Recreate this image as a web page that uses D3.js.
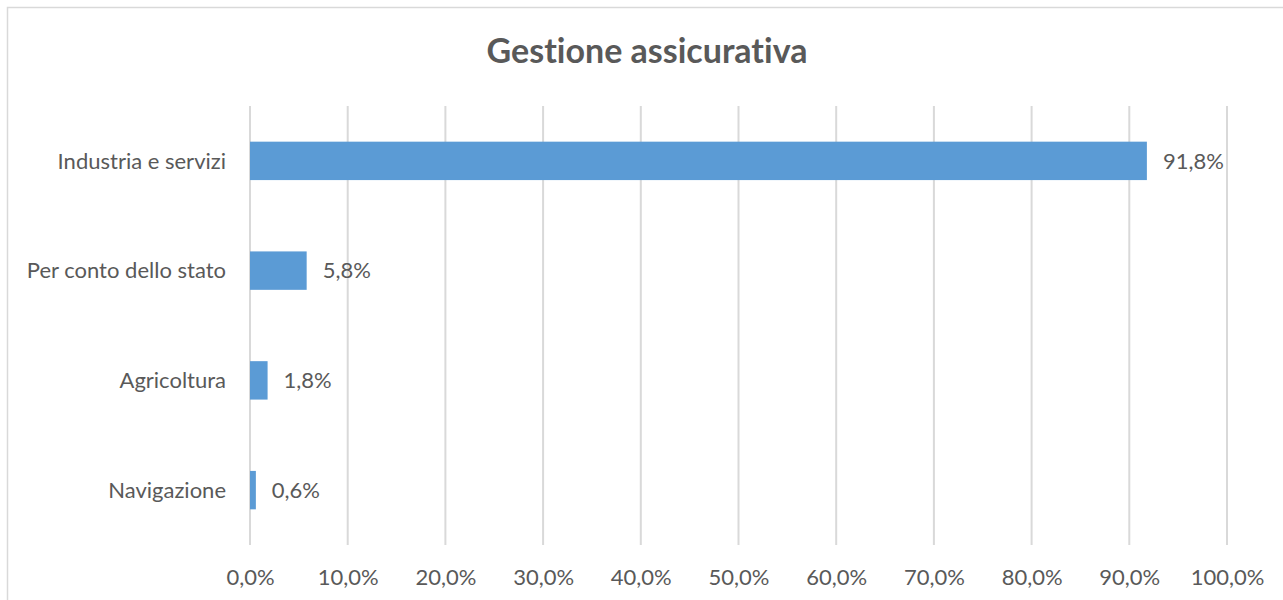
<!DOCTYPE html>
<html>
<head>
<meta charset="utf-8">
<script src="https://cdn.jsdelivr.net/npm/d3@7"></script>
<style>
    body { margin: 0; background: #fff; }
    svg { display: block; font-family: Lato, "Open Sans", sans-serif; font-variant-ligatures: none; }
    .grid line { stroke: #d9d9d9; stroke-width: 2; }
    .bar { fill: #5b9bd5; }
    .label, .tick text, .value { fill: #595959; font-size: 22px; }
    .title { fill: #595959; font-size: 34px; font-weight: bold; }
</style>
</head>
<body>
<svg id="chart" width="1283" height="600"></svg>
<script>
const title = 'Gestione assicurativa';
const categories = ['Industria e servizi', 'Per conto dello stato', 'Agricoltura', 'Navigazione'];
const values = [91.8, 5.8, 1.8, 0.6];
const xTicks = [0, 10, 20, 30, 40, 50, 60, 70, 80, 90, 100];

const width = 1283, height = 600;
const margin = {top: 106, right: 56, bottom: 55, left: 250};

const svg = d3.select('#chart');
const fmt = v => v.toFixed(1).replace('.', ',') + '%';

// chart frame (runs off the right and bottom of the picture)
svg.append('rect')
    .attr('x', 7.5).attr('y', 7.5)
    .attr('width', width + 10).attr('height', height + 10)
    .attr('fill', 'none').attr('stroke', '#d9d9d9').attr('stroke-width', 1.5);

const x = d3.scaleLinear()
    .domain([0, 100])
    .range([margin.left, width - margin.right]);

const y = d3.scaleBand()
    .domain(categories)
    .range([margin.top, height - margin.bottom])
    .paddingInner(0.65)
    .paddingOuter(0.325);

svg.append('text')
    .attr('class', 'title')
    .attr('x', 647)
    .attr('y', 63)
    .attr('text-anchor', 'middle')
    .text(title);

svg.append('g')
    .attr('class', 'grid')
    .selectAll('line')
    .data(xTicks)
    .join('line')
        .attr('x1', d => x(d)).attr('x2', d => x(d))
        .attr('y1', margin.top).attr('y2', height - margin.bottom);

const xAxis = svg.append('g')
    .attr('transform', `translate(0,${height - margin.bottom})`)
    .call(d3.axisBottom(x).tickValues(xTicks).tickFormat(fmt).tickSize(0).tickPadding(24));
xAxis.select('.domain').remove();
xAxis.attr('font-family', null).attr('font-size', null);

svg.append('g')
    .selectAll('rect')
    .data(values)
    .join('rect')
        .attr('class', 'bar')
        .attr('x', x(0))
        .attr('y', (d, i) => y(categories[i]))
        .attr('width', d => x(d) - x(0))
        .attr('height', y.bandwidth());

svg.append('g')
    .selectAll('text')
    .data(categories)
    .join('text')
        .attr('class', 'label')
        .attr('x', x(0) - 24)
        .attr('y', d => y(d) + y.bandwidth() / 2)
        .attr('dy', '0.35em')
        .attr('text-anchor', 'end')
        .text(d => d);

svg.append('g')
    .selectAll('text')
    .data(values)
    .join('text')
        .attr('class', 'value')
        .attr('x', d => x(d) + 16)
        .attr('y', (d, i) => y(categories[i]) + y.bandwidth() / 2)
        .attr('dy', '0.35em')
        .text(fmt);
</script>
</body>
</html>
